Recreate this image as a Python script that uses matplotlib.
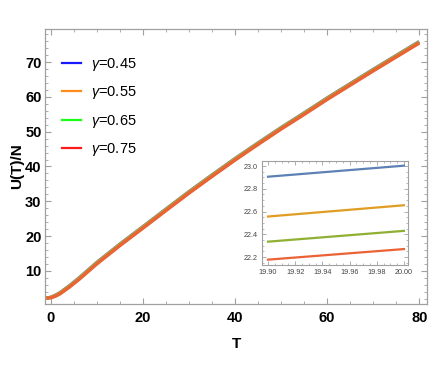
import numpy as np
import matplotlib
matplotlib.use("Agg")
import matplotlib.pyplot as plt
from matplotlib.lines import Line2D
from matplotlib.ticker import MultipleLocator

plt.rcParams["font.family"] = ["Liberation Sans", "DejaVu Sans"]
plt.rcParams["mathtext.fontset"] = "custom"
plt.rcParams["mathtext.it"] = "Liberation Sans:italic"
plt.rcParams["mathtext.rm"] = "Liberation Sans"

# main curves
T = [-1, 0, 1, 2, 4, 6, 8, 10, 15, 20, 25, 30, 35, 40, 45, 50, 55, 60, 65, 70, 75, 80]
U_045 = [2.2, 2.45, 3.05, 3.8, 5.75, 7.9, 10.2, 12.5, 17.75, 22.75, 27.8, 32.8, 37.6,
         42.3, 46.8, 51.2, 55.4, 59.7, 63.8, 67.9, 71.9, 75.9]
U_055 = [2.2, 2.4, 2.95, 3.7, 5.6, 7.75, 10.05, 12.35, 17.6, 22.6, 27.65, 32.65, 37.45,
         42.15, 46.65, 51.05, 55.25, 59.55, 63.65, 67.75, 71.75, 75.75]
U_065 = [2.2, 2.35, 2.85, 3.55, 5.45, 7.6, 9.9, 12.2, 17.45, 22.45, 27.5, 32.5, 37.3,
         42.0, 46.5, 50.9, 55.1, 59.4, 63.5, 67.6, 71.6, 75.6]
U_075 = [2.2, 2.3, 2.75, 3.45, 5.35, 7.45, 9.75, 12.05, 17.3, 22.3, 27.35, 32.35, 37.15,
         41.85, 46.35, 50.75, 54.95, 59.25, 63.35, 67.45, 71.45, 75.45]

# inset (zoom near T = 20)
T_zoom = [19.90, 20.00]
Z_045 = [22.906, 23.003]
Z_055 = [22.556, 22.655]
Z_065 = [22.335, 22.430]
Z_075 = [22.177, 22.270]

labels = [r"$\it{\gamma}$=0.45", r"$\it{\gamma}$=0.55", r"$\it{\gamma}$=0.65", r"$\it{\gamma}$=0.75"]
line_colors = ["#5E81B5", "#E19C24", "#8FB032", "#EB6235"]
legend_colors = ["#1a1aff", "#ff8c1a", "#1aff1a", "#ff1a1a"]
frame_col = "#a0a0a0"

fig = plt.figure(figsize=(4.36, 3.82), dpi=100)
ax = fig.add_axes([0.1032, 0.2042, 0.8762, 0.7199])

for U, c in zip([U_045, U_055, U_065, U_075], line_colors):
    ax.plot(T, U, color=c, lw=2.4, solid_capstyle="butt")

ax.set_xlim(-1.3, 81.7)
ax.set_ylim(0.5, 79.5)
ax.xaxis.set_major_locator(MultipleLocator(20))
ax.xaxis.set_minor_locator(MultipleLocator(5))
ax.yaxis.set_major_locator(MultipleLocator(10))
ax.yaxis.set_minor_locator(MultipleLocator(2))
ax.set_yticks([10, 20, 30, 40, 50, 60, 70])
for s in ax.spines.values():
    s.set_color(frame_col)
    s.set_linewidth(0.9)
ax.tick_params(which="both", direction="in", top=True, right=True, color=frame_col,
               labelsize=10.5)
ax.tick_params(axis="x", pad=5)
ax.tick_params(axis="y", pad=2.5)
ax.tick_params(which="major", length=4.5, width=0.8)
ax.tick_params(which="minor", length=2.5, width=0.6)
for lab in ax.get_xticklabels() + ax.get_yticklabels():
    lab.set_fontweight("bold")
ax.set_xlabel("T", fontsize=11, fontweight="bold", labelpad=9)
ax.set_ylabel("U(T)/N", fontsize=11, fontweight="bold", labelpad=1)

handles = [Line2D([], [], color=c, lw=1.6) for c in legend_colors]
ax.legend(handles, labels, loc="upper left", bbox_to_anchor=(62 / 436, 1 - 56 / 382),
          bbox_transform=fig.transFigure, frameon=False, fontsize=10.5,
          handlelength=1.3, handletextpad=0.7, labelspacing=0.78,
          borderpad=0, borderaxespad=0)

# inset
ins = fig.add_axes([0.601, 0.3063, 0.3348, 0.2722])
for Z, c in zip([Z_045, Z_055, Z_065, Z_075], line_colors):
    ins.plot(T_zoom, Z, color=c, lw=1.6)
ins.set_xlim(19.8956, 20.003)
ins.set_ylim(22.13, 23.044)
ins.xaxis.set_minor_locator(MultipleLocator(0.005))
ins.yaxis.set_minor_locator(MultipleLocator(0.05))
ins.set_xticks([19.90, 19.92, 19.94, 19.96, 19.98, 20.00])
ins.set_xticklabels(["19.90", "19.92", "19.94", "19.96", "19.98", "20.00"])
ins.set_yticks([22.2, 22.4, 22.6, 22.8, 23.0])
ins.set_yticklabels(["22.2", "22.4", "22.6", "22.8", "23.0"])
for s in ins.spines.values():
    s.set_color(frame_col)
    s.set_linewidth(0.8)
ins.tick_params(which="both", direction="in", top=True, right=True, color=frame_col,
                labelsize=5.2, labelcolor="#444444", pad=3)
ins.tick_params(which="major", length=3, width=0.6)
ins.tick_params(which="minor", length=1.6, width=0.5)

fig.savefig("out.png", dpi=100)
plt.close(fig)
